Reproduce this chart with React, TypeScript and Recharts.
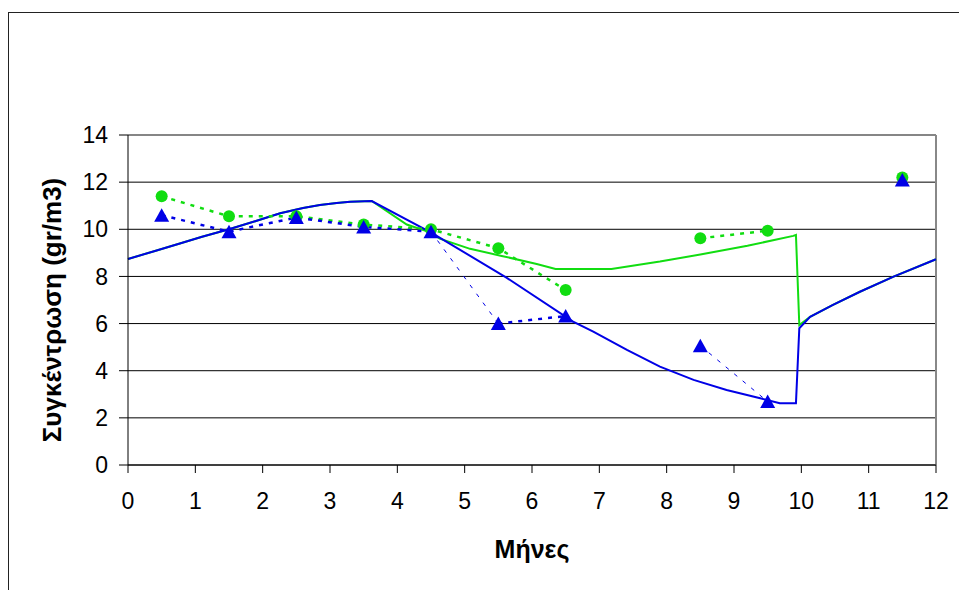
import { type FC } from "react"
import {
  CartesianGrid,
  ComposedChart,
  Label,
  Line,
  ReferenceLine,
  XAxis,
  YAxis,
} from "recharts"

// months for the measured points
const months = [0.5, 1.5, 2.5, 3.5, 4.5, 5.5, 6.5, 7.5, 8.5, 9.5, 10.5, 11.5]
const measuredGreen = [11.4, 10.55, 10.55, 10.2, 10.0, 9.2, 7.42, null, 9.62, 9.94, null, 12.2]
const measuredBlue = [10.6, 9.9, 10.5, 10.1, 9.9, 6.0, 6.32, null, 5.06, 2.69, null, 12.09]
// blue dotted line: index ranges drawn thick / thin (steep parts look thin)
const thickBlueRanges = [[0, 4], [5, 6]]
const thinBlueRanges = [[4, 5], [8, 9]]

// model curves
const modelBlueX = [0, 0.4, 0.77, 1.1, 1.5, 1.9, 2.26, 2.6, 2.85, 3.1, 3.3, 3.62, 4.51, 5.62, 6.61, 6.91, 7.41, 7.9, 8.4, 8.89, 9.39, 9.68, 9.92, 9.97, 10.13, 10.47, 10.87, 11.37, 12]
const modelBlueY = [8.74, 9.08, 9.4, 9.68, 10.0, 10.35, 10.68, 10.9, 11.03, 11.12, 11.17, 11.2, 9.85, 7.95, 6.08, 5.66, 4.88, 4.17, 3.61, 3.18, 2.83, 2.62, 2.62, 5.8, 6.29, 6.79, 7.35, 7.99, 8.73]
const modelGreenX = [0, 0.4, 0.77, 1.1, 1.5, 1.9, 2.26, 2.6, 2.85, 3.1, 3.3, 3.62, 4.14, 4.51, 4.63, 5.08, 5.55, 6.07, 6.35, 7.18, 7.9, 8.5, 9.2, 9.88, 9.92, 9.97, 10.13, 10.47, 10.87, 11.37, 12]
const modelGreenY = [8.74, 9.08, 9.4, 9.68, 10.0, 10.35, 10.68, 10.9, 11.03, 11.12, 11.17, 11.2, 10.2, 9.85, 9.6, 9.17, 8.87, 8.53, 8.32, 8.32, 8.63, 8.93, 9.3, 9.72, 9.76, 5.94, 6.29, 6.79, 7.35, 7.99, 8.73]

const xTicks = [0, 1, 2, 3, 4, 5, 6, 7, 8, 9, 10, 11, 12]
const yTicks = [0, 2, 4, 6, 8, 10, 12, 14]

const GREEN = "#11dd11"
const BLUE = "#0000e6"
const FONT = "'Liberation Sans', Arial, sans-serif"

const pick = (values: (number | null)[], [a, b]: number[]) =>
  values.map((v, i) => (i >= a && i <= b ? v : null))

const measured = months.map((m, i) => {
  const row: Record<string, number | null> = { m, g: measuredGreen[i], b: measuredBlue[i] }
  thickBlueRanges.forEach((r, k) => (row[`thick${k}`] = pick(measuredBlue, r)[i]))
  thinBlueRanges.forEach((r, k) => (row[`thin${k}`] = pick(measuredBlue, r)[i]))
  return row
})
const blueCurve = modelBlueX.map((x, i) => ({ m: x, v: modelBlueY[i] }))
const greenCurve = modelGreenX.map((x, i) => ({ m: x, v: modelGreenY[i] }))

const Circle = (props: any) => {
  const { cx, cy, value, index } = props
  if (value == null || cx == null || cy == null) return <g key={index} />
  return <circle key={index} cx={cx} cy={cy} r={6} fill={GREEN} stroke="none" />
}

const Triangle = (props: any) => {
  const { cx, cy, value, index } = props
  if (value == null || cx == null || cy == null) return <g key={index} />
  return (
    <path
      key={index}
      d={`M${cx},${cy - 7} L${cx + 7.5},${cy + 6.5} L${cx - 7.5},${cy + 6.5} Z`}
      fill={BLUE}
      stroke="none"
    />
  )
}

const App: FC = () => {
  return (
    <div
      style={{
        position: "absolute",
        left: 0,
        top: 0,
        width: 959,
        height: 590,
        overflow: "hidden",
        background: "#fff",
      }}
    >
      <div
        style={{
          position: "absolute",
          left: 8,
          top: 12,
          width: 1100,
          height: 800,
          border: "1px solid #222",
        }}
      />
      <div style={{ position: "absolute", left: 0, top: 0 }}>
        <ComposedChart
          width={959}
          height={590}
          data={measured}
          margin={{ top: 135, right: 23, left: 0, bottom: 0 }}
          style={{ fontFamily: FONT }}
        >
          <CartesianGrid vertical={false} stroke="#000" strokeOpacity={1} />
          <ReferenceLine y={14} stroke="#888" strokeWidth={1.5} />
          <ReferenceLine x={12} stroke="#888" strokeWidth={2} />
          <XAxis
            dataKey="m"
            type="number"
            domain={[0, 12]}
            ticks={xTicks}
            interval={0}
            height={125}
            stroke="#000"
            tickSize={8}
            tickMargin={20}
            tick={{ fontSize: 23, fill: "#000" }}
            allowDuplicatedCategory={false}
          >
            <Label
              content={({ viewBox }: any) => (
                <text
                  x={viewBox.x + viewBox.width / 2}
                  y={558}
                  textAnchor="middle"
                  fontWeight="bold"
                  fontSize={25}
                  fontFamily={FONT}
                  fill="#000"
                >
                  Μήνες
                </text>
              )}
            />
          </XAxis>
          <YAxis
            type="number"
            domain={[0, 14]}
            ticks={yTicks}
            interval={0}
            width={128}
            stroke="#000"
            tickSize={9}
            tickMargin={11}
            tick={{ fontSize: 23, fill: "#000" }}
          >
            <Label
              content={({ viewBox }: any) => {
                const cy = viewBox.y + viewBox.height / 2 + 10
                return (
                  <text
                    x={61}
                    y={cy}
                    transform={`rotate(-90 61 ${cy})`}
                    textAnchor="middle"
                    fontWeight="bold"
                    fontSize={26}
                    fontFamily={FONT}
                    fill="#000"
                  >
                    Συγκέντρωση (gr/m3)
                  </text>
                )
              }}
            />
          </YAxis>
          <Line
            data={greenCurve}
            dataKey="v"
            type="linear"
            stroke={GREEN}
            strokeWidth={2}
            dot={false}
            activeDot={false}
            isAnimationActive={false}
          />
          <Line
            data={blueCurve}
            dataKey="v"
            type="linear"
            stroke={BLUE}
            strokeWidth={2}
            dot={false}
            activeDot={false}
            isAnimationActive={false}
          />
          <Line
            dataKey="g"
            type="linear"
            stroke={GREEN}
            strokeWidth={2.5}
            strokeDasharray="4 6"
            dot={Circle}
            activeDot={false}
            isAnimationActive={false}
          />
          {thickBlueRanges.map((_, k) => (
            <Line
              key={`thick${k}`}
              dataKey={`thick${k}`}
              type="linear"
              stroke={BLUE}
              strokeWidth={2.5}
              strokeDasharray="4 6"
              dot={false}
              activeDot={false}
              isAnimationActive={false}
            />
          ))}
          {thinBlueRanges.map((_, k) => (
            <Line
              key={`thin${k}`}
              dataKey={`thin${k}`}
              type="linear"
              stroke={BLUE}
              strokeWidth={1}
              strokeDasharray="4 7"
              dot={false}
              activeDot={false}
              isAnimationActive={false}
            />
          ))}
          <Line
            dataKey="b"
            type="linear"
            stroke="none"
            dot={Triangle}
            activeDot={false}
            isAnimationActive={false}
          />
        </ComposedChart>
      </div>
    </div>
  )
}

export default App
